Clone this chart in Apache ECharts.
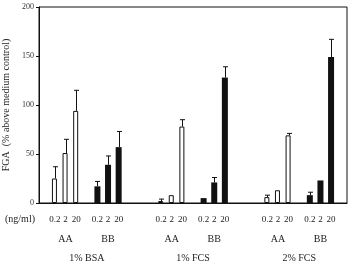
<!DOCTYPE html>
<html>
<head>
<meta charset="utf-8">
<script src="https://cdn.jsdelivr.net/npm/echarts@6/dist/echarts.min.js"></script>
<style>
  html, body { margin: 0; padding: 0; background: #fff; }
  #chart { width: 349px; height: 265px; }
</style>
</head>
<body>
<div id="chart"></div>
<script>
// 数据
const conditions = ['1% BSA', '1% FCS', '2% FCS'];
const ligands = ['AA', 'BB'];
const doses = ['0.2', '2', '20'];
const aaMean = [25, 51, 94, 2, 8, 78, 6, 13, 69];
const aaSD = [12, 14, 21, 2, 0, 7, 2, 1, 2];
const bbMean = [17, 39, 57, 5, 21, 128, 8, 23, 149];
const bbSD = [5, 9, 16, 0, 5, 11, 3, 0, 18];
const yTicks = [0, 50, 100, 150, 200];

// 构建类目槽位: 前空1, 每组 AA3 + 空1 + BB3, 组间空3, 后空1
const doseLabels = [], ligandLabels = [], condLabels = [];
const aaSlots = [], bbSlots = [];
function pushSlot(d, l, c) { doseLabels.push(d); ligandLabels.push(l); condLabels.push(c); }
pushSlot('', '', '');
conditions.forEach((cond, ci) => {
  doses.forEach((d, di) => { aaSlots.push(doseLabels.length); pushSlot(d, di === 1 ? ligands[0] : '', ''); });
  pushSlot('', '', cond);
  doses.forEach((d, di) => { bbSlots.push(doseLabels.length); pushSlot(d, di === 1 ? ligands[1] : '', ''); });
  if (ci < conditions.length - 1) { pushSlot('', '', ''); pushSlot('', '', ''); pushSlot('', '', ''); }
});
pushSlot('', '', '');
const n = doseLabels.length;

const aaData = new Array(n).fill('-');
const bbData = new Array(n).fill('-');
const errData = [];
aaSlots.forEach((s, i) => { aaData[s] = aaMean[i]; errData.push([s, aaMean[i], aaMean[i] + aaSD[i]]); });
bbSlots.forEach((s, i) => { bbData[s] = bbMean[i]; errData.push([s, bbMean[i], bbMean[i] + bbSD[i]]); });

const font = 'Liberation Serif';
const chart = echarts.init(document.getElementById('chart'));

function catAxis(labels, margin, size) {
  return {
    type: 'category',
    data: labels,
    position: 'bottom',
    axisLine: { show: false },
    axisTick: { show: false },
    axisLabel: { interval: 0, margin: margin, color: '#222', fontFamily: font, fontSize: size }
  };
}

const option = {
  animation: false,
  grid: {
    left: 39, right: 2, top: 7, bottom: 62,
    containLabel: false, outerBoundsMode: 'none',
    show: true, borderColor: '#111', borderWidth: 1
  },
  xAxis: [
    {
      type: 'category',
      data: doseLabels,
      axisLine: { lineStyle: { color: '#111', width: 1 } },
      axisTick: { show: false },
      axisLabel: { interval: 0, margin: 12, color: '#222', fontFamily: font, fontSize: 9 }
    },
    catAxis(ligandLabels, 31, 10),
    catAxis(condLabels, 50, 10)
  ],
  yAxis: {
    type: 'value',
    min: yTicks[0],
    max: yTicks[yTicks.length - 1],
    interval: 50,
    name: 'FGA  (% above medium control)',
    nameLocation: 'middle',
    nameGap: 28,
    nameRotate: 90,
    nameTextStyle: { color: '#222', fontFamily: font, fontSize: 10 },
    axisLine: { show: true, lineStyle: { color: '#111' } },
    axisTick: { show: true, length: 3, lineStyle: { color: '#111' } },
    axisLabel: { color: '#333', fontFamily: font, fontSize: 8, margin: 5 },
    splitLine: { show: false }
  },
  graphic: [
    {
      type: 'text',
      left: 5,
      top: 214,
      style: { text: '(ng/ml)', fill: '#222', font: '10px "Liberation Serif"' }
    }
  ],
  series: [
    {
      name: 'AA',
      type: 'bar',
      data: aaData,
      barWidth: 5,
      barGap: '-100%',
      itemStyle: { color: '#fff', borderColor: '#111', borderWidth: 1 }
    },
    {
      name: 'BB',
      type: 'bar',
      data: bbData,
      barWidth: 6,
      barGap: '-100%',
      itemStyle: { color: '#111' }
    },
    {
      name: 'SD',
      type: 'custom',
      data: errData,
      z: 5,
      renderItem: function (params, api) {
        const base = api.coord([api.value(0), api.value(1)]);
        const top = api.coord([api.value(0), api.value(2)]);
        if (base[1] - top[1] < 1) return null;
        const x = Math.round(base[0]) + 0.5;
        const style = { stroke: '#111', lineWidth: 1 };
        return {
          type: 'group',
          children: [
            { type: 'line', shape: { x1: x, y1: base[1], x2: x, y2: top[1] }, style: style },
            { type: 'line', shape: { x1: x - 2.5, y1: top[1], x2: x + 2.5, y2: top[1] }, style: style }
          ]
        };
      }
    }
  ]
};

chart.setOption(option);
</script>
</body>
</html>
